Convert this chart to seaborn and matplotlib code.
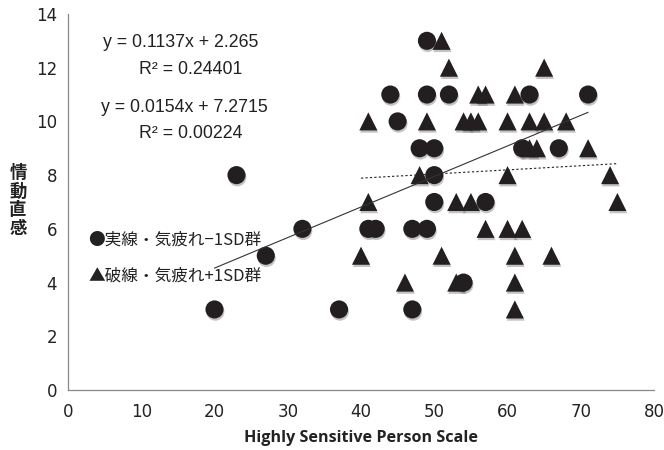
import numpy as np
import pandas as pd
import matplotlib
matplotlib.use("Agg")
import matplotlib.pyplot as plt
import matplotlib.patheffects as pe
import seaborn as sns

# -1SD group (circles, solid trend line)
low_x = [20, 23, 27, 32, 37, 41, 42, 44, 45, 47, 47, 48, 49, 49, 49, 50, 50, 50, 52, 54, 57, 62, 63, 67, 71]
low_y = [3, 8, 5, 6, 3, 6, 6, 11, 10, 3, 6, 9, 6, 11, 13, 7, 8, 9, 11, 4, 7, 9, 11, 9, 11]

# +1SD group (triangles, dotted trend line)
high_x = [40, 41, 41, 46, 48, 49, 51, 51, 52, 53, 53, 54, 55, 55, 56, 56, 57, 57,
          60, 60, 60, 61, 61, 61, 61, 62, 63, 63, 64, 65, 65, 66, 68, 71, 74, 75]
high_y = [5, 7, 10, 4, 8, 10, 13, 5, 12, 7, 4, 10, 10, 7, 10, 11, 11, 6,
          8, 10, 6, 11, 5, 4, 3, 6, 10, 9, 9, 12, 10, 5, 10, 9, 8, 7]

group_names = ["low", "high"]
fit_slopes = [0.1137, 0.0154]
fit_intercepts = [2.265, 7.2715]
fit_r2 = ["0.24401", "0.00224"]

x_ticks = list(range(0, 81, 10))
y_ticks = list(range(0, 15, 2))

df = pd.DataFrame({
    "x": low_x + high_x,
    "y": low_y + high_y,
    "group": [group_names[0]] * len(low_x) + [group_names[1]] * len(high_x),
})

sns.set_theme(style="white")
plt.rcParams["font.family"] = ["Liberation Sans Narrow", "DejaVu Sans"]

fig = plt.figure(figsize=(6.64, 4.5), dpi=100)
ax = fig.add_axes([0.1024, 0.1333, 0.8826, 0.8357])

ink = "#231f20"
sns.scatterplot(data=df, x="x", y="y", style="group", markers={"low": "o", "high": "^"},
                color=ink, s=170, edgecolor="none", linewidth=0, legend=False, ax=ax, zorder=3)
for coll in ax.collections:
    coll.set_path_effects([pe.SimplePatchShadow(offset=(0.6, -1.6), shadow_rgbFace="#555555", alpha=0.35),
                           pe.Normal()])

# trend lines over each group's range
for xs, m, b, ls in [(low_x, fit_slopes[0], fit_intercepts[0], "-"),
                     (high_x, fit_slopes[1], fit_intercepts[1], (0, (2, 2)))]:
    xx = np.array([min(xs), max(xs)])
    ax.plot(xx, m * xx + b, color="#333333" if ls == "-" else "#222222",
            lw=0.8, ls=ls, zorder=4)

ax.set_xlim(0, 80)
ax.set_ylim(0, 14)
ax.set_xticks(x_ticks)
ax.set_yticks(y_ticks)
ax.tick_params(axis="both", which="both", direction="out", length=4, width=0.8,
               color="#888888", labelsize=12, labelcolor="#222222", pad=4)
ax.tick_params(axis="x", pad=5)
for side in ["top", "right"]:
    ax.spines[side].set_visible(False)
for side in ["left", "bottom"]:
    ax.spines[side].set_color("#888888")
    ax.spines[side].set_linewidth(0.9)

ax.set_xlabel("Highly Sensitive Person Scale", fontsize=11.6, fontweight="bold",
              family=["Open Sans", "DejaVu Sans"], color="#222222", labelpad=7)
ax.set_ylabel("")
fig.text(0.027, 0.553, "情\n動\n直\n感", fontsize=12.5, fontweight="bold", ha="center", va="center",
         family=["Noto Sans CJK JP", "DejaVu Sans"], color="#222222", linespacing=1.05)

# regression equations
eq_font = dict(fontsize=12.8, color="#222222", ha="center", va="center",
               family=["Liberation Sans", "DejaVu Sans"])
ax.text(15.4, 12.92, f"y = {fit_slopes[0]}x + {fit_intercepts[0]}", **eq_font)
ax.text(16.8, 11.95, f"R² = {fit_r2[0]}", **eq_font)
ax.text(15.9, 10.5, f"y = {fit_slopes[1]}x + {fit_intercepts[1]}", **eq_font)
ax.text(16.7, 9.55, f"R² = {fit_r2[1]}", **eq_font)

# group key
key_font = dict(fontsize=12, color="#222222", ha="left", va="center",
                family=["Noto Sans CJK JP", "DejaVu Sans"])
ax.text(2.8, 5.58, "●実線・気疲れ−1SD群", **key_font)
ax.text(2.8, 4.24, "▲破線・気疲れ+1SD群", **key_font)

fig.savefig("out.png", dpi=100)
